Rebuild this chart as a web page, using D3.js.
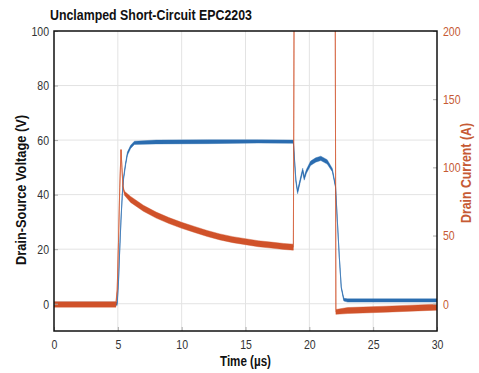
<!DOCTYPE html>
<html>
<head>
<meta charset="utf-8">
<script src="https://cdn.jsdelivr.net/npm/d3@7"></script>
<style>
  body { margin: 0; background: #fff; }
  svg text { font-family: "Liberation Sans", Arial, sans-serif; }
</style>
</head>
<body>
<div id="chart"></div>
<script>
// tick labels
var timeTicks = [0, 5, 10, 15, 20, 25, 30];
var voltTicks = [0, 20, 40, 60, 80, 100];
var currTicks = [0, 50, 100, 150, 200];

// drain-source voltage trace: [time us, volts, noise half-width]
var voltage = [
    [0, 0, 0.6], [4.95, 0, 0.6], [5.05, 8, 0.3], [5.15, 20, 0.3], [5.25, 31, 0.3],
    [5.35, 40, 0.4], [5.45, 46, 0.5], [5.6, 51, 0.5], [5.75, 55, 0.6], [6.0, 57.5, 0.6],
    [6.3, 59, 0.6], [8, 59.3, 0.7], [12, 59.4, 0.7], [16, 59.5, 0.6], [18.75, 59.4, 0.6],
    [18.85, 52, 0.4], [18.95, 45, 0.5], [19.08, 41, 0.7], [19.3, 45.5, 0.7], [19.48, 49, 0.7],
    [19.6, 46, 0.7], [19.77, 48.5, 0.7], [20.1, 51.5, 0.8], [20.5, 52.7, 0.8], [20.9, 53.3, 0.8],
    [21.4, 52, 0.8], [21.8, 49, 0.6], [22.05, 43, 0.4], [22.2, 30, 0.2], [22.35, 17, 0.2],
    [22.5, 6, 0.3], [22.7, 1.5, 0.5], [23, 1.2, 0.6], [30, 1.2, 0.6]
];

// drain current trace: [time us, amps, noise half-width]
var current = [
    [0, -0.5, 2.0], [4.85, -0.5, 2.0], [4.95, 10, 0.3], [5.05, 45, 0.2], [5.15, 85, 0.2],
    [5.25, 113, 0.2], [5.32, 100, 0.2], [5.4, 86, 0.5], [5.52, 81, 1.5], [6, 76.5, 2.2],
    [7, 70, 2.2], [8, 65, 2.2], [9, 61, 2.2], [10, 57.5, 2.2], [11, 54.5, 2.2], [12, 51.5, 2.2],
    [13, 49, 2.2], [14, 47, 2.2], [15, 45.5, 2.2], [16, 44, 2.2], [17, 43, 2.2],
    [18, 42, 2.2], [18.75, 41.5, 2.2], [18.82, 260, 0], [22.02, 260, 0], [22.08, -6, 1.8],
    [23, -5, 2.2], [26, -4, 2.2], [30, -2.5, 2.2]
];

(function () {
    var margin = { top: 31, left: 54, right: 42, bottom: 42 },
        width = 479 - margin.left - margin.right,
        height = 373 - margin.top - margin.bottom;

    var blue = "#2b6db0", red = "#d0522a", orange = "#c65a34";

    var svg = d3.select("#chart")
        .append("svg")
        .attr("width", 479)
        .attr("height", 373);

    var g = svg.append("g")
        .attr("transform", "translate(" + margin.left + "," + margin.top + ")");

    var x = d3.scaleLinear().domain([0, 30]).range([0, width]);
    var yV = d3.scaleLinear().domain([-10, 100]).range([height, 0]);
    var yA = d3.scaleLinear().domain([-20, 200]).range([height, 0]);

    // grid
    g.append("g").selectAll("line")
        .data(timeTicks.slice(1, -1))
        .enter().append("line")
        .attr("x1", d => x(d)).attr("x2", d => x(d))
        .attr("y1", 0).attr("y2", height)
        .attr("stroke", "#e3e3e3");
    g.append("g").selectAll("line")
        .data(voltTicks.slice(0, -1))
        .enter().append("line")
        .attr("x1", 0).attr("x2", width)
        .attr("y1", d => yV(d)).attr("y2", d => yV(d))
        .attr("stroke", "#e3e3e3");

    g.append("clipPath").attr("id", "clip")
        .append("rect").attr("width", width).attr("height", height);

    var plot = g.append("g").attr("clip-path", "url(#clip)");

    function drawTrace(data, yScale, color) {
        var band = d3.area()
            .x(d => x(d[0]))
            .y0(d => yScale(d[1] - d[2]))
            .y1(d => yScale(d[1] + d[2]));
        var line = d3.line()
            .x(d => x(d[0]))
            .y(d => yScale(d[1]));
        plot.append("path").datum(data)
            .attr("d", band)
            .attr("fill", color)
            .attr("stroke", color)
            .attr("stroke-width", 0.8)
            .attr("stroke-opacity", 0.5);
        plot.append("path").datum(data)
            .attr("d", line)
            .attr("fill", "none")
            .attr("stroke", color)
            .attr("stroke-opacity", 0.6)
            .attr("stroke-width", 1);
    }

    drawTrace(voltage, yV, blue);
    drawTrace(current, yA, red);

    // axes
    var axL = g.append("g").call(d3.axisLeft(yV).tickValues(voltTicks).tickSize(-4).tickPadding(5));
    var axR = g.append("g").attr("transform", "translate(" + width + ",0)")
        .call(d3.axisRight(yA).tickValues(currTicks).tickSize(-4).tickPadding(6));
    var axB = g.append("g").attr("transform", "translate(0," + height + ")")
        .call(d3.axisBottom(x).tickValues(timeTicks).tickSize(-4).tickPadding(8));

    [axL, axR, axB].forEach(function (ax) {
        ax.select(".domain").remove();
        ax.selectAll(".tick line").attr("stroke", "#aaa");
        ax.selectAll("text").attr("font-size", 13.5).attr("font-family", "Liberation Sans").attr("fill", "#333");
    });
    axR.selectAll("text").attr("fill", orange);

    // condensed look: squeeze tick labels horizontally
    svg.selectAll(".tick text").each(function () {
        var w = this.getComputedTextLength();
        d3.select(this).attr("textLength", w * 0.78).attr("lengthAdjust", "spacingAndGlyphs");
    });

    // frame
    g.append("rect")
        .attr("width", width).attr("height", height)
        .attr("fill", "none")
        .attr("stroke", "#111")
        .attr("stroke-width", 1.5);

    // titles
    svg.append("text")
        .attr("x", 50).attr("y", 20)
        .attr("font-size", 15).attr("font-weight", "bold").attr("fill", "#111")
        .attr("textLength", 202).attr("lengthAdjust", "spacingAndGlyphs")
        .text("Unclamped Short-Circuit EPC2203");

    svg.append("text")
        .attr("x", 245.5).attr("y", 366)
        .attr("text-anchor", "middle")
        .attr("font-size", 14).attr("font-weight", "bold").attr("fill", "#111")
        .attr("textLength", 51).attr("lengthAdjust", "spacingAndGlyphs")
        .text("Time (µs)");

    svg.append("text")
        .attr("transform", "translate(26,190) rotate(-90)")
        .attr("text-anchor", "middle")
        .attr("font-size", 14).attr("font-weight", "bold").attr("fill", "#111")
        .attr("textLength", 150).attr("lengthAdjust", "spacingAndGlyphs")
        .text("Drain-Source Voltage (V)");

    svg.append("text")
        .attr("transform", "translate(471,173) rotate(-90)")
        .attr("text-anchor", "middle")
        .attr("font-size", 14).attr("font-weight", "bold").attr("fill", orange)
        .attr("textLength", 100).attr("lengthAdjust", "spacingAndGlyphs")
        .text("Drain Current (A)");
})()
</script>
</body>
</html>
